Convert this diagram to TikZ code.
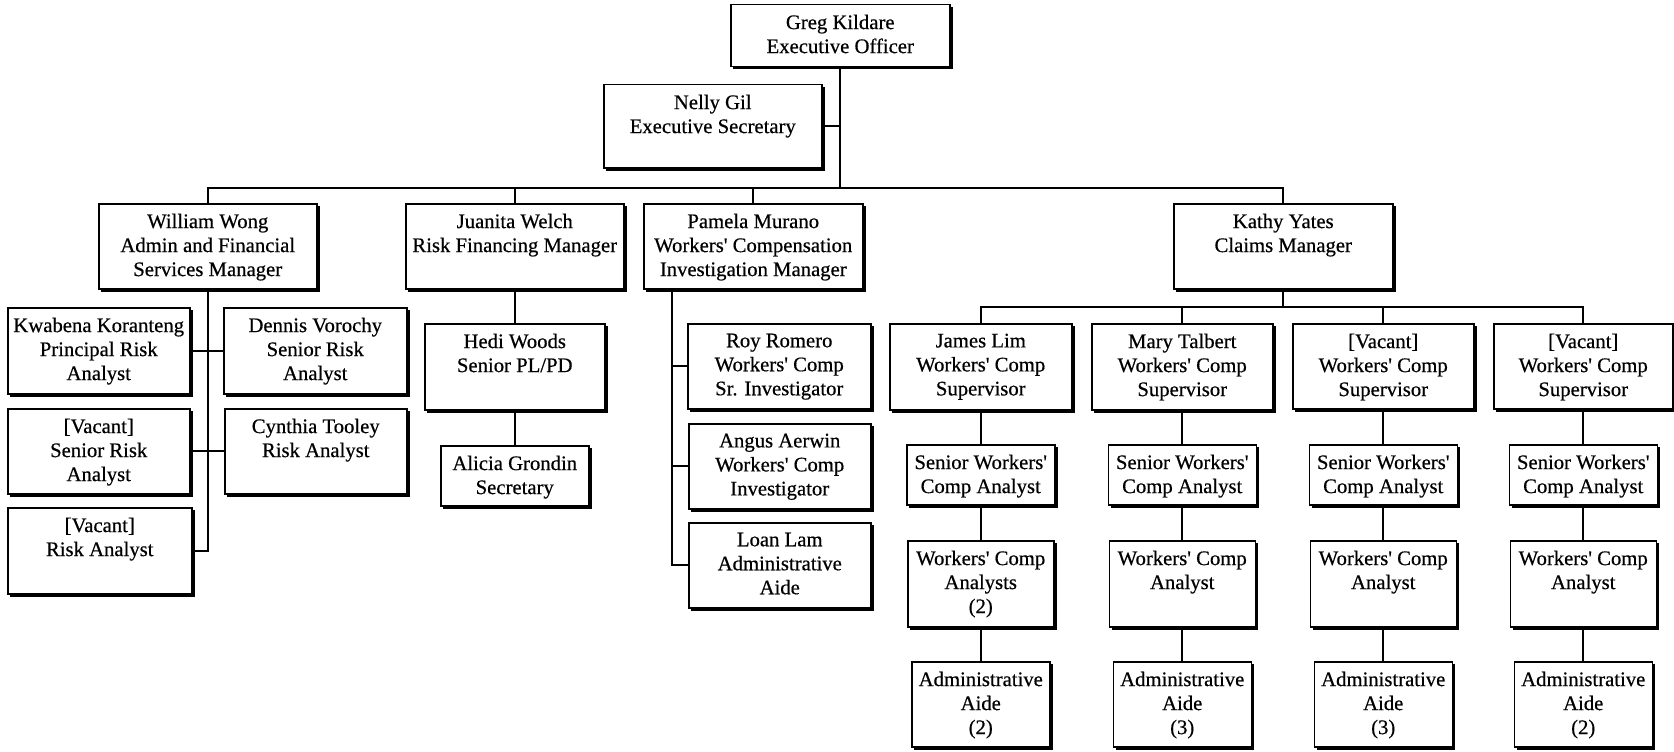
\documentclass[tikz,border=0pt]{standalone}
\usepackage{fontspec}
\setmainfont{Liberation Serif}[FakeBold=0.5]
\newcommand\apq{\textquotesingle}
\tikzset{
  orgbox/.style={draw=black, fill=white, line width=1.5pt, inner sep=0pt, anchor=north west},
  orgtext/.style={inner sep=0pt, align=center, anchor=north, font=\fontsize{20.7}{24}\selectfont},
  boxshadow/.style={fill=black},
  link/.style={draw=black, line width=1.7pt}
}
% name, x1, y1, x2, y2, text
\newcommand\orgnode[6]{%
  \path[boxshadow] (#2+3,#3+3) rectangle (#4+3.5,#5+3.5);
  \node[orgbox, minimum width={#4-#2}, minimum height={#5-#3}] (#1) at (#2,#3) {};
  \node[orgtext] (#1-t) at ([yshift=-10.5pt]#1.north) {#6};
}
\begin{document}
\begin{tikzpicture}[x=1pt,y=-1pt]
\useasboundingbox (0,0) rectangle (1674,752);
\fill[white] (0,0) rectangle (1674,752);

% top
\orgnode{greg}{730}{4}{949}{66}{Greg Kildare\\Executive Officer}
\orgnode{nelly}{603}{84}{821}{167}{Nelly Gil\\Executive Secretary}

% managers
\orgnode{william}{98}{203}{316}{288}{William Wong\\Admin and Financial\\Services Manager}
\orgnode{juanita}{405}{203}{623}{288}{Juanita Welch\\Risk Financing Manager}
\orgnode{pamela}{643}{203}{862}{288}{Pamela Murano\\Workers\apq{} Compensation\\Investigation Manager}
\orgnode{kathy}{1173}{203}{1392}{288}{Kathy Yates\\Claims Manager}

% William's team
\orgnode{kwabena}{7}{307}{189}{393}{Kwabena Koranteng\\Principal Risk\\Analyst}
\orgnode{dennis}{223}{307}{406}{393}{Dennis Vorochy\\Senior Risk\\Analyst}
\orgnode{vsra}{7}{408}{189}{493}{[Vacant]\\Senior Risk\\Analyst}
\orgnode{cynthia}{224}{408}{406}{493}{Cynthia Tooley\\Risk Analyst}
\orgnode{vra}{7}{507}{191}{593}{[Vacant]\\Risk Analyst}

% Juanita's team
\orgnode{hedi}{424}{323}{604}{409}{Hedi Woods\\Senior PL/PD}
\orgnode{alicia}{440}{445}{588}{505}{Alicia Grondin\\Secretary}

% Pamela's team
\orgnode{roy}{687}{323}{870}{408}{Roy Romero\\Workers\apq{} Comp\\Sr. Investigator}
\orgnode{angus}{688}{423}{870}{508}{Angus Aerwin\\Workers\apq{} Comp\\Investigator}
\orgnode{loan}{688}{522}{870}{607}{Loan Lam\\Administrative\\Aide}

% Kathy's supervisors
\orgnode{james}{889}{323}{1071}{409}{James Lim\\Workers\apq{} Comp\\Supervisor}
\orgnode{mary}{1091}{323}{1272}{409}{Mary Talbert\\Workers\apq{} Comp\\Supervisor}
\orgnode{vac1}{1292}{323}{1473}{408}{[Vacant]\\Workers\apq{} Comp\\Supervisor}
\orgnode{vac2}{1493}{323}{1672}{408}{[Vacant]\\Workers\apq{} Comp\\Supervisor}

% columns
\orgnode{sen1}{906}{444}{1054}{504}{Senior Workers\apq\\Comp Analyst}
\orgnode{sen2}{1107.5}{444}{1255.5}{504}{Senior Workers\apq\\Comp Analyst}
\orgnode{sen3}{1308.5}{444}{1456.5}{504}{Senior Workers\apq\\Comp Analyst}
\orgnode{sen4}{1508.5}{444}{1656.5}{504}{Senior Workers\apq\\Comp Analyst}

\orgnode{ana1}{907}{540}{1053}{626}{Workers\apq{} Comp\\Analysts\\(2)}
\orgnode{ana2}{1108.5}{540}{1254.5}{626}{Workers\apq{} Comp\\Analyst}
\orgnode{ana3}{1309.5}{540}{1455.5}{626}{Workers\apq{} Comp\\Analyst}
\orgnode{ana4}{1509.5}{540}{1655.5}{626}{Workers\apq{} Comp\\Analyst}

\orgnode{adm1}{911}{661}{1049}{746}{Administrative\\Aide\\(2)}
\orgnode{adm2}{1112.5}{661}{1250.5}{746}{Administrative\\Aide\\(3)}
\orgnode{adm3}{1313.5}{661}{1451.5}{746}{Administrative\\Aide\\(3)}
\orgnode{adm4}{1513.5}{661}{1651.5}{746}{Administrative\\Aide\\(2)}

% connectors: top
\coordinate (bus) at (0,188);
\draw[link] (greg.south) -- (greg.south |- bus);
\draw[link] (nelly.east) -- (nelly.east -| greg.south);
\draw[link] (william.north) -- (william.north |- bus) -- (kathy.north |- bus) -- (kathy.north);
\draw[link] (juanita.north) -- (juanita.north |- bus);
\draw[link] (pamela.north) -- (pamela.north |- bus);

% William
\draw[link] (william.south) -- (william.south |- vra.east) -- (vra.east);
\draw[link] (kwabena.east) -- (dennis.west);
\draw[link] (vsra.east) -- (cynthia.west);

% Juanita
\draw[link] (juanita.south) -- (hedi.north);
\draw[link] (hedi.south) -- (alicia.north);

% Pamela
\coordinate (pt) at ([xshift=29pt]pamela.south west);
\draw[link] (pt) -- (pt |- loan.west) -- (loan.west);
\draw[link] (pt |- roy.west) -- (roy.west);
\draw[link] (pt |- angus.west) -- (angus.west);

% Kathy
\coordinate (kbus) at (0,307);
\draw[link] (kathy.south) -- (kathy.south |- kbus);
\draw[link] (james.north) -- (james.north |- kbus) -- (vac2.north |- kbus) -- (vac2.north);
\draw[link] (mary.north) -- (mary.north |- kbus);
\draw[link] (vac1.north) -- (vac1.north |- kbus);

\draw[link] (james.south) -- (sen1.north);
\draw[link] (mary.south) -- (sen2.north);
\draw[link] (vac1.south) -- (sen3.north);
\draw[link] (vac2.south) -- (sen4.north);
\draw[link] (sen1.south) -- (ana1.north);
\draw[link] (sen2.south) -- (ana2.north);
\draw[link] (sen3.south) -- (ana3.north);
\draw[link] (sen4.south) -- (ana4.north);
\draw[link] (ana1.south) -- (adm1.north);
\draw[link] (ana2.south) -- (adm2.north);
\draw[link] (ana3.south) -- (adm3.north);
\draw[link] (ana4.south) -- (adm4.north);
\end{tikzpicture}
\end{document}
